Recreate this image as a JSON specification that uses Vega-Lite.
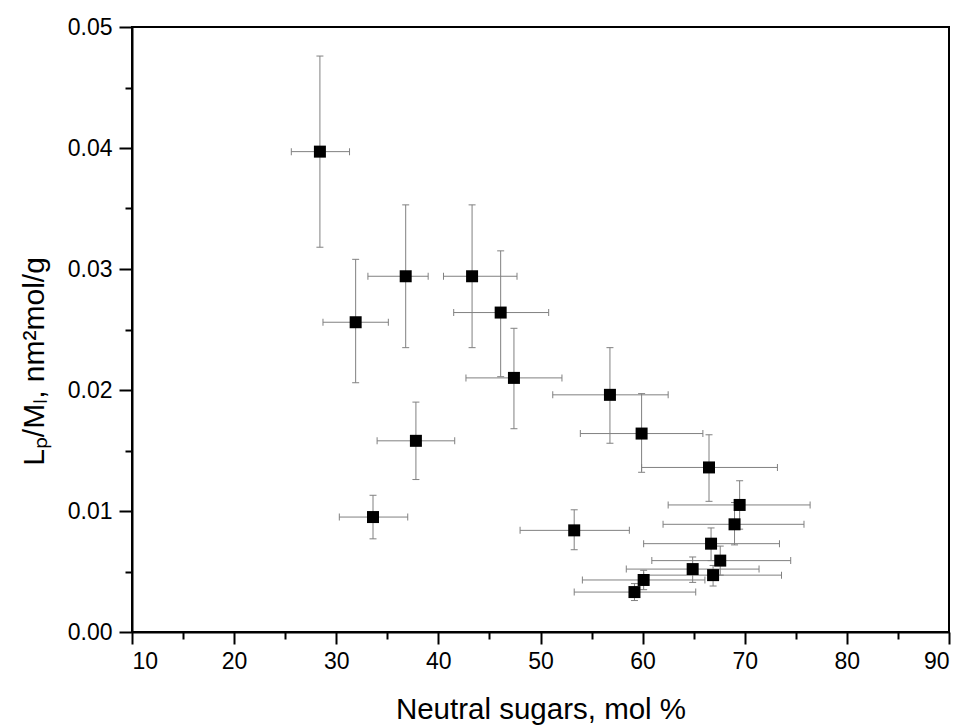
{
  "$schema": "https://vega.github.io/schema/vega-lite/v6.json",
  "width": 817,
  "height": 605,
  "autosize": {"type": "none"},
  "padding": {"left": 132, "top": 27, "right": 20, "bottom": 96},
  "background": "white",
  "config": {
    "view": {"stroke": "black", "strokeWidth": 2},
    "font": "Liberation Sans, Arial, sans-serif",
    "axis": {
      "grid": false,
      "domainColor": "black",
      "domainWidth": 2,
      "tickColor": "black",
      "tickWidth": 2,
      "labelColor": "black",
      "labelFont": "Liberation Sans, Arial, sans-serif",
      "labelFontSize": 23,
      "titleColor": "black",
      "titleFont": "Liberation Sans, Arial, sans-serif",
      "titleFontWeight": "normal"
    }
  },
  "data": {
    "values": [
      {"x": 28.4, "y": 0.0397, "xlo": 25.6, "xhi": 31.3, "ylo": 0.0318, "yhi": 0.0476},
      {"x": 31.9, "y": 0.0256, "xlo": 28.7, "xhi": 35.1, "ylo": 0.0206, "yhi": 0.0308},
      {"x": 36.8, "y": 0.0294, "xlo": 33.1, "xhi": 39.0, "ylo": 0.0235, "yhi": 0.0353},
      {"x": 43.3, "y": 0.0294, "xlo": 40.5, "xhi": 47.7, "ylo": 0.0235, "yhi": 0.0353},
      {"x": 46.1, "y": 0.0264, "xlo": 41.5, "xhi": 50.8, "ylo": 0.0211, "yhi": 0.0315},
      {"x": 47.4, "y": 0.0210, "xlo": 42.7, "xhi": 52.1, "ylo": 0.0168, "yhi": 0.0251},
      {"x": 37.8, "y": 0.0158, "xlo": 34.0, "xhi": 41.6, "ylo": 0.0126, "yhi": 0.0190},
      {"x": 33.6, "y": 0.0095, "xlo": 30.3, "xhi": 37.0, "ylo": 0.0077, "yhi": 0.0113},
      {"x": 56.8, "y": 0.0196, "xlo": 51.2, "xhi": 62.5, "ylo": 0.0156, "yhi": 0.0235},
      {"x": 59.9, "y": 0.0164, "xlo": 53.9, "xhi": 65.9, "ylo": 0.0132, "yhi": 0.0197},
      {"x": 66.5, "y": 0.0136, "xlo": 59.9, "xhi": 73.2, "ylo": 0.0108, "yhi": 0.0163},
      {"x": 69.5, "y": 0.0105, "xlo": 62.5, "xhi": 76.4, "ylo": 0.0085, "yhi": 0.0125},
      {"x": 69.0, "y": 0.0089, "xlo": 62.0, "xhi": 75.8, "ylo": 0.0072, "yhi": 0.0107},
      {"x": 66.7, "y": 0.0073, "xlo": 60.1, "xhi": 73.4, "ylo": 0.0059, "yhi": 0.0086},
      {"x": 67.6, "y": 0.0059, "xlo": 60.9, "xhi": 74.5, "ylo": 0.0047, "yhi": 0.0071},
      {"x": 64.9, "y": 0.0052, "xlo": 58.4, "xhi": 71.4, "ylo": 0.0041, "yhi": 0.0062},
      {"x": 66.9, "y": 0.0047, "xlo": 60.1, "xhi": 73.6, "ylo": 0.0038, "yhi": 0.0055},
      {"x": 60.1, "y": 0.0043, "xlo": 54.1, "xhi": 66.1, "ylo": 0.0035, "yhi": 0.0051},
      {"x": 59.2, "y": 0.0033, "xlo": 53.3, "xhi": 65.2, "ylo": 0.0026, "yhi": 0.0040},
      {"x": 53.3, "y": 0.0084, "xlo": 48.0, "xhi": 58.7, "ylo": 0.0068, "yhi": 0.0101}
    ]
  },
  "layer": [
    {
      "mark": {"type": "point", "opacity": 0},
      "encoding": {
        "x": {
          "field": "x", "type": "quantitative",
          "scale": {"domain": [10, 90], "nice": false, "zero": false},
          "axis": {
            "orient": "bottom",
            "values": [10, 20, 30, 40, 50, 60, 70, 80, 90],
            "tickSize": 12,
            "labelPadding": 6,
            "title": "Neutral sugars, mol %",
            "titleFontSize": 29.5,
            "titleBaseline": "alphabetic",
            "titleY": 86
          }
        },
        "y": {
          "field": "y", "type": "quantitative",
          "scale": {"domain": [0, 0.05], "nice": false, "zero": true},
          "axis": {
            "orient": "left",
            "values": [0, 0.01, 0.02, 0.03, 0.04, 0.05],
            "format": ".2f",
            "tickSize": 13,
            "labelPadding": 7,
            "title": "Lₚ/Mₗ, nm²mol/g",
            "titleFontSize": 30,
            "titleAngle": -90,
            "titleBaseline": "alphabetic",
            "titleAlign": "center",
            "titleX": -89,
            "titleY": 334
          }
        }
      }
    },
    {
      "mark": {"type": "point", "opacity": 0},
      "encoding": {
        "x": {
          "field": "x", "type": "quantitative",
          "axis": {
            "orient": "bottom",
            "values": [15, 25, 35, 45, 55, 65, 75, 85],
            "tickSize": 7,
            "labels": false,
            "domain": false,
            "title": null
          }
        },
        "y": {
          "field": "y", "type": "quantitative",
          "axis": {
            "orient": "left",
            "values": [0.005, 0.015, 0.025, 0.035, 0.045],
            "tickSize": 7,
            "labels": false,
            "domain": false,
            "title": null
          }
        }
      }
    },
    {
      "mark": {"type": "rule", "color": "#808080", "strokeWidth": 1},
      "encoding": {
        "x": {"field": "x", "type": "quantitative", "axis": null},
        "y": {"field": "ylo", "type": "quantitative", "axis": null},
        "y2": {"field": "yhi"}
      }
    },
    {
      "mark": {"type": "rule", "color": "#808080", "strokeWidth": 1},
      "encoding": {
        "x": {"field": "xlo", "type": "quantitative", "axis": null},
        "x2": {"field": "xhi"},
        "y": {"field": "y", "type": "quantitative", "axis": null}
      }
    },
    {
      "mark": {"type": "tick", "orient": "horizontal", "size": 7, "thickness": 1, "color": "#808080", "opacity": 1},
      "encoding": {
        "x": {"field": "x", "type": "quantitative", "axis": null},
        "y": {"field": "ylo", "type": "quantitative", "axis": null}
      }
    },
    {
      "mark": {"type": "tick", "orient": "horizontal", "size": 7, "thickness": 1, "color": "#808080", "opacity": 1},
      "encoding": {
        "x": {"field": "x", "type": "quantitative", "axis": null},
        "y": {"field": "yhi", "type": "quantitative", "axis": null}
      }
    },
    {
      "mark": {"type": "tick", "orient": "vertical", "size": 7, "thickness": 1, "color": "#808080", "opacity": 1},
      "encoding": {
        "x": {"field": "xlo", "type": "quantitative", "axis": null},
        "y": {"field": "y", "type": "quantitative", "axis": null}
      }
    },
    {
      "mark": {"type": "tick", "orient": "vertical", "size": 7, "thickness": 1, "color": "#808080", "opacity": 1},
      "encoding": {
        "x": {"field": "xhi", "type": "quantitative", "axis": null},
        "y": {"field": "y", "type": "quantitative", "axis": null}
      }
    },
    {
      "mark": {"type": "point", "shape": "square", "filled": true, "color": "black", "size": 144, "opacity": 1},
      "encoding": {
        "x": {"field": "x", "type": "quantitative", "axis": null},
        "y": {"field": "y", "type": "quantitative", "axis": null}
      }
    }
  ],
  "resolve": {"axis": {"x": "independent", "y": "independent"}}
}
